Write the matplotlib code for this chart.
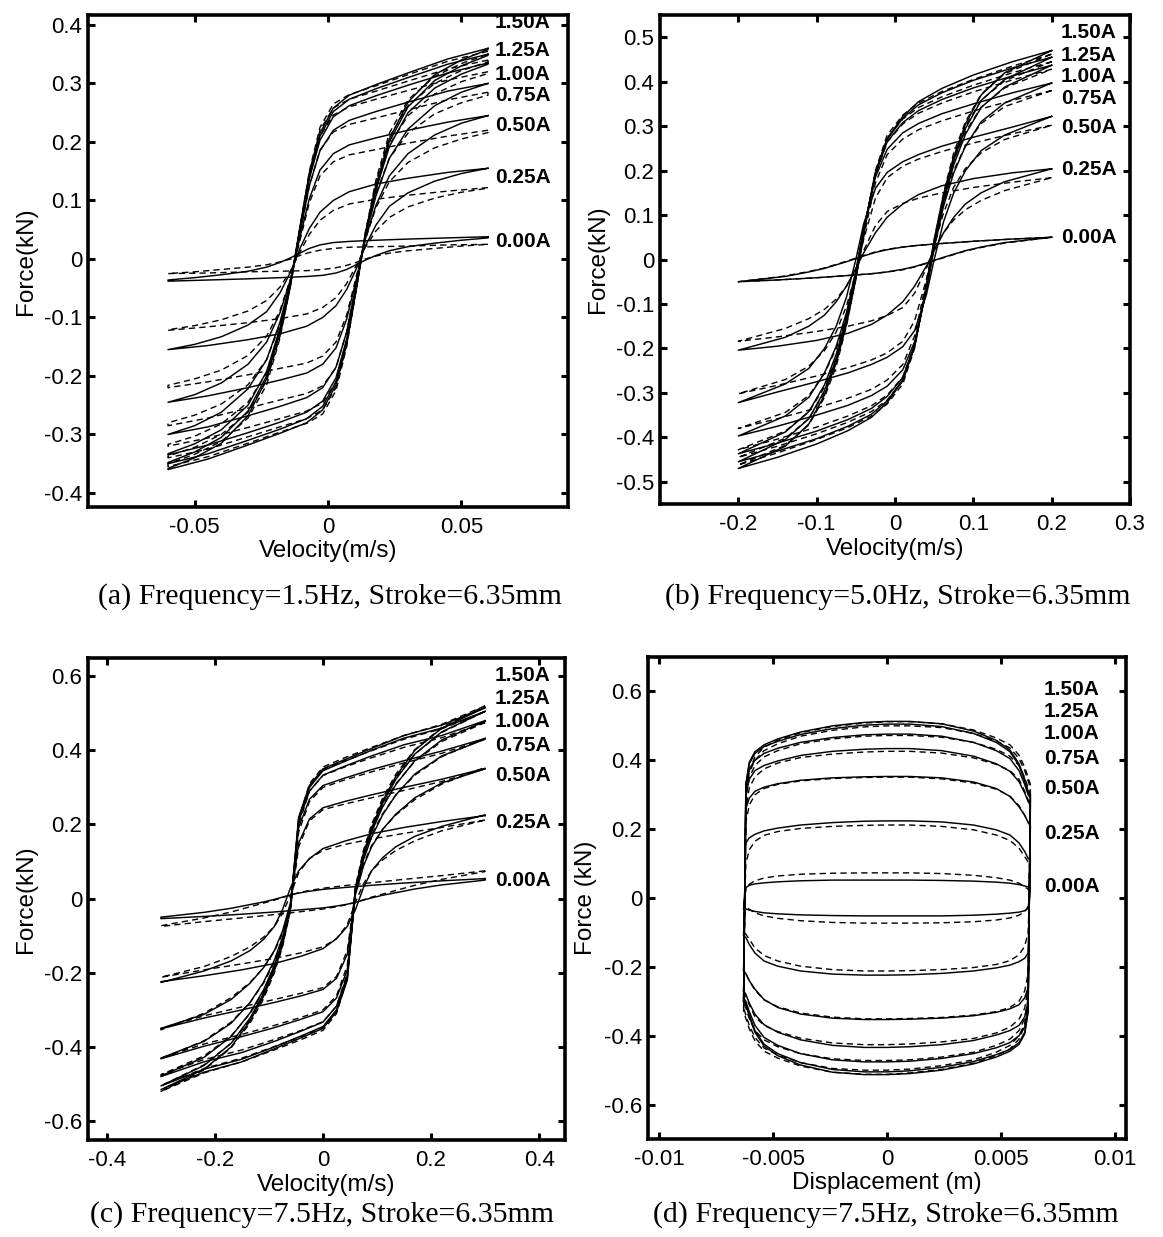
import matplotlib
matplotlib.use('Agg')
import matplotlib.pyplot as plt
import numpy as np
from matplotlib.ticker import FuncFormatter

plt.rcParams['font.family'] = ['Liberation Sans', 'DejaVu Sans']
plt.rcParams['axes.unicode_minus'] = False

CURRENTS = ['1.50A', '1.25A', '1.00A', '0.75A', '0.50A', '0.25A', '0.00A']

# ---------------- Panel (a): 1.5 Hz, force vs velocity (upper branch, v decreasing) ----------
V_A = [0.06, 0.045, 0.03, 0.018, 0.008, 0.002, -0.003, -0.007, -0.0105, -0.014, -0.018, -0.023, -0.03, -0.04, -0.05, -0.06]
A_S_150 = [0.360, 0.342, 0.318, 0.298, 0.280, 0.258, 0.215, 0.145, 0.055, -0.040, -0.125, -0.205, -0.268, -0.315, -0.340, -0.358]
A_S_125 = [0.350, 0.333, 0.310, 0.291, 0.273, 0.252, 0.210, 0.142, 0.053, -0.040, -0.122, -0.200, -0.260, -0.305, -0.330, -0.348]
A_S_100 = [0.335, 0.318, 0.297, 0.279, 0.262, 0.243, 0.203, 0.137, 0.050, -0.040, -0.118, -0.192, -0.250, -0.292, -0.316, -0.333]
A_S_075 = [0.300, 0.287, 0.268, 0.252, 0.237, 0.220, 0.185, 0.125, 0.045, -0.038, -0.108, -0.172, -0.222, -0.262, -0.285, -0.300]
A_S_050 = [0.245, 0.234, 0.220, 0.207, 0.195, 0.180, 0.152, 0.103, 0.037, -0.034, -0.092, -0.142, -0.180, -0.212, -0.232, -0.245]
A_S_025 = [0.155, 0.148, 0.138, 0.128, 0.115, 0.100, 0.080, 0.052, 0.018, -0.022, -0.058, -0.090, -0.113, -0.133, -0.146, -0.155]
A_S_000 = [0.038, 0.036, 0.034, 0.032, 0.030, 0.028, 0.024, 0.018, 0.010, 0.002, -0.006, -0.014, -0.021, -0.027, -0.032, -0.036]
A_D_150 = [0.355, 0.338, 0.315, 0.296, 0.281, 0.265, 0.225, 0.150, 0.055, -0.045, -0.135, -0.215, -0.272, -0.312, -0.334, -0.350]
A_D_125 = [0.340, 0.325, 0.304, 0.287, 0.273, 0.258, 0.220, 0.147, 0.053, -0.045, -0.132, -0.208, -0.262, -0.300, -0.322, -0.337]
A_D_100 = [0.320, 0.306, 0.288, 0.273, 0.260, 0.246, 0.210, 0.140, 0.050, -0.044, -0.125, -0.195, -0.245, -0.282, -0.303, -0.317]
A_D_075 = [0.285, 0.272, 0.255, 0.241, 0.230, 0.217, 0.186, 0.125, 0.043, -0.040, -0.112, -0.172, -0.215, -0.248, -0.267, -0.280]
A_D_050 = [0.220, 0.210, 0.198, 0.187, 0.178, 0.166, 0.142, 0.096, 0.032, -0.033, -0.088, -0.132, -0.165, -0.190, -0.205, -0.216]
A_D_025 = [0.122, 0.116, 0.109, 0.102, 0.094, 0.083, 0.066, 0.042, 0.012, -0.020, -0.048, -0.071, -0.089, -0.104, -0.114, -0.121]
A_D_000 = [0.025, 0.024, 0.022, 0.021, 0.020, 0.018, 0.015, 0.011, 0.006, 0.000, -0.005, -0.010, -0.014, -0.018, -0.022, -0.025]

# ---------------- Panel (b): 5.0 Hz ----------------
V_B = [0.2, 0.15, 0.1, 0.06, 0.03, 0.01, -0.01, -0.025, -0.04, -0.05, -0.062, -0.075, -0.09, -0.11, -0.14, -0.2]
B_S_150 = [0.470, 0.445, 0.415, 0.385, 0.355, 0.322, 0.272, 0.195, 0.065, -0.035, -0.140, -0.230, -0.305, -0.370, -0.420, -0.470]
B_S_125 = [0.455, 0.431, 0.403, 0.375, 0.348, 0.318, 0.270, 0.194, 0.066, -0.033, -0.136, -0.223, -0.295, -0.358, -0.405, -0.455]
B_S_100 = [0.437, 0.413, 0.386, 0.360, 0.335, 0.308, 0.265, 0.192, 0.068, -0.030, -0.130, -0.213, -0.282, -0.342, -0.388, -0.437]
B_S_075 = [0.397, 0.375, 0.350, 0.328, 0.306, 0.285, 0.248, 0.185, 0.070, -0.025, -0.120, -0.195, -0.255, -0.310, -0.352, -0.397]
B_S_050 = [0.322, 0.298, 0.275, 0.255, 0.236, 0.220, 0.196, 0.160, 0.080, 0.000, -0.085, -0.150, -0.200, -0.245, -0.280, -0.322]
B_S_025 = [0.204, 0.195, 0.182, 0.166, 0.146, 0.125, 0.095, 0.060, 0.015, -0.020, -0.060, -0.095, -0.125, -0.150, -0.175, -0.204]
B_S_000 = [0.050, 0.046, 0.041, 0.036, 0.032, 0.028, 0.022, 0.016, 0.008, 0.002, -0.005, -0.012, -0.020, -0.028, -0.038, -0.050]
B_D_150 = [0.462, 0.435, 0.405, 0.378, 0.352, 0.325, 0.280, 0.200, 0.060, -0.045, -0.150, -0.240, -0.310, -0.372, -0.418, -0.462]
B_D_125 = [0.445, 0.420, 0.392, 0.366, 0.342, 0.316, 0.273, 0.196, 0.058, -0.045, -0.147, -0.233, -0.300, -0.358, -0.402, -0.445]
B_D_100 = [0.428, 0.404, 0.377, 0.352, 0.329, 0.305, 0.264, 0.190, 0.056, -0.043, -0.141, -0.223, -0.287, -0.343, -0.386, -0.428]
B_D_075 = [0.380, 0.358, 0.334, 0.312, 0.292, 0.271, 0.236, 0.172, 0.050, -0.040, -0.128, -0.200, -0.256, -0.306, -0.344, -0.380]
B_D_050 = [0.302, 0.283, 0.262, 0.243, 0.226, 0.210, 0.184, 0.138, 0.045, -0.030, -0.105, -0.163, -0.205, -0.240, -0.270, -0.302]
B_D_025 = [0.184, 0.174, 0.162, 0.150, 0.138, 0.126, 0.108, 0.076, 0.020, -0.022, -0.060, -0.089, -0.112, -0.133, -0.155, -0.184]
B_D_000 = [0.050, 0.046, 0.041, 0.036, 0.032, 0.028, 0.023, 0.017, 0.009, 0.003, -0.004, -0.011, -0.019, -0.027, -0.037, -0.050]

# ---------------- Panel (c): 7.5 Hz ----------------
V_C = [0.3, 0.22, 0.15, 0.09, 0.04, 0.0, -0.025, -0.045, -0.06, -0.075, -0.09, -0.11, -0.135, -0.17, -0.22, -0.3]
C_S_150 = [0.515, 0.468, 0.440, 0.405, 0.375, 0.350, 0.305, 0.220, -0.020, -0.120, -0.190, -0.262, -0.330, -0.400, -0.460, -0.515]
C_S_125 = [0.505, 0.460, 0.433, 0.400, 0.370, 0.345, 0.300, 0.215, -0.020, -0.118, -0.186, -0.256, -0.322, -0.390, -0.450, -0.505]
C_S_100 = [0.480, 0.440, 0.415, 0.385, 0.357, 0.333, 0.290, 0.208, -0.020, -0.114, -0.180, -0.246, -0.308, -0.372, -0.428, -0.478]
C_S_075 = [0.432, 0.398, 0.372, 0.348, 0.325, 0.305, 0.268, 0.192, -0.015, -0.105, -0.166, -0.225, -0.280, -0.336, -0.385, -0.430]
C_S_050 = [0.351, 0.322, 0.300, 0.280, 0.262, 0.245, 0.215, 0.150, -0.010, -0.088, -0.140, -0.186, -0.228, -0.272, -0.312, -0.350]
C_S_025 = [0.224, 0.208, 0.192, 0.175, 0.155, 0.135, 0.108, 0.075, 0.030, -0.030, -0.075, -0.110, -0.140, -0.168, -0.195, -0.226]
C_S_000 = [0.054, 0.048, 0.042, 0.036, 0.030, 0.025, 0.020, 0.015, 0.010, 0.004, -0.002, -0.009, -0.016, -0.026, -0.037, -0.050]
C_D_150 = [0.520, 0.470, 0.440, 0.408, 0.380, 0.355, 0.310, 0.215, -0.030, -0.130, -0.200, -0.270, -0.336, -0.402, -0.462, -0.520]
C_D_125 = [0.505, 0.458, 0.430, 0.399, 0.372, 0.348, 0.304, 0.210, -0.030, -0.128, -0.196, -0.263, -0.327, -0.390, -0.448, -0.505]
C_D_100 = [0.475, 0.434, 0.408, 0.380, 0.355, 0.332, 0.290, 0.200, -0.028, -0.122, -0.187, -0.250, -0.310, -0.370, -0.424, -0.475]
C_D_075 = [0.430, 0.392, 0.366, 0.342, 0.320, 0.300, 0.262, 0.180, -0.025, -0.112, -0.172, -0.228, -0.280, -0.333, -0.383, -0.432]
C_D_050 = [0.350, 0.316, 0.292, 0.272, 0.255, 0.240, 0.210, 0.140, -0.020, -0.094, -0.143, -0.186, -0.226, -0.267, -0.309, -0.354]
C_D_025 = [0.212, 0.192, 0.176, 0.161, 0.146, 0.130, 0.108, 0.070, 0.010, -0.040, -0.075, -0.104, -0.130, -0.156, -0.183, -0.212]
C_D_000 = [0.075, 0.062, 0.052, 0.043, 0.035, 0.028, 0.022, 0.016, 0.010, 0.003, -0.004, -0.012, -0.022, -0.036, -0.052, -0.073]

# ---------------- Panel (d): 7.5 Hz, force vs displacement (upper curve, x increasing) ----------
X_D = [-0.0063, -0.0062, -0.00605, -0.0058, -0.0054, -0.0048, -0.0038, -0.0024, -0.001, 0.0,
       0.001, 0.0024, 0.0038, 0.0048, 0.0054, 0.0058, 0.00605, 0.0062, 0.0063]
D_S_150 = [-0.30, 0.33, 0.395, 0.425, 0.445, 0.462, 0.482, 0.500, 0.510, 0.513, 0.513, 0.506, 0.485, 0.458, 0.430, 0.390, 0.345, 0.310, 0.300]
D_S_125 = [-0.30, 0.33, 0.390, 0.420, 0.440, 0.455, 0.475, 0.492, 0.502, 0.505, 0.505, 0.498, 0.478, 0.452, 0.425, 0.385, 0.340, 0.305, 0.300]
D_S_100 = [-0.29, 0.32, 0.375, 0.400, 0.420, 0.435, 0.452, 0.466, 0.474, 0.476, 0.476, 0.470, 0.452, 0.428, 0.405, 0.370, 0.330, 0.300, 0.290]
D_S_075 = [-0.27, 0.30, 0.345, 0.370, 0.385, 0.398, 0.414, 0.426, 0.432, 0.434, 0.434, 0.428, 0.412, 0.390, 0.368, 0.338, 0.305, 0.280, 0.270]
D_S_050 = [-0.21, 0.26, 0.290, 0.310, 0.322, 0.332, 0.342, 0.349, 0.352, 0.353, 0.353, 0.349, 0.337, 0.318, 0.295, 0.265, 0.240, 0.220, 0.210]
D_S_025 = [-0.11, 0.16, 0.175, 0.185, 0.195, 0.203, 0.212, 0.219, 0.223, 0.224, 0.224, 0.221, 0.212, 0.198, 0.183, 0.160, 0.135, 0.115, 0.110]
D_S_000 = [-0.03, 0.03, 0.037, 0.041, 0.044, 0.047, 0.050, 0.052, 0.052, 0.052, 0.052, 0.051, 0.049, 0.046, 0.043, 0.039, 0.035, 0.032, 0.030]
D_D_150 = [-0.33, 0.30, 0.370, 0.410, 0.438, 0.458, 0.480, 0.498, 0.508, 0.512, 0.512, 0.506, 0.488, 0.465, 0.445, 0.415, 0.380, 0.350, 0.330]
D_D_125 = [-0.32, 0.30, 0.365, 0.400, 0.428, 0.448, 0.470, 0.487, 0.497, 0.500, 0.500, 0.495, 0.478, 0.456, 0.436, 0.405, 0.370, 0.340, 0.320]
D_D_100 = [-0.30, 0.29, 0.350, 0.385, 0.410, 0.428, 0.448, 0.462, 0.470, 0.472, 0.472, 0.467, 0.452, 0.432, 0.412, 0.385, 0.350, 0.320, 0.300]
D_D_075 = [-0.27, 0.26, 0.320, 0.352, 0.375, 0.392, 0.408, 0.418, 0.424, 0.426, 0.426, 0.421, 0.407, 0.388, 0.370, 0.345, 0.310, 0.285, 0.270]
D_D_050 = [-0.21, 0.22, 0.270, 0.300, 0.318, 0.330, 0.340, 0.347, 0.350, 0.351, 0.351, 0.346, 0.334, 0.316, 0.296, 0.268, 0.240, 0.220, 0.210]
D_D_025 = [-0.10, 0.10, 0.140, 0.165, 0.182, 0.193, 0.202, 0.208, 0.211, 0.212, 0.212, 0.208, 0.198, 0.183, 0.167, 0.145, 0.120, 0.105, 0.100]
D_D_000 = [-0.02, 0.025, 0.040, 0.050, 0.058, 0.064, 0.069, 0.072, 0.073, 0.073, 0.073, 0.071, 0.066, 0.059, 0.052, 0.043, 0.033, 0.025, 0.020]

# label anchor y-values (data units) for each panel
LAB_A = [0.405, 0.356, 0.316, 0.279, 0.228, 0.140, 0.029]
LAB_B = [0.511, 0.460, 0.411, 0.363, 0.298, 0.202, 0.049]
LAB_C = [0.602, 0.540, 0.478, 0.413, 0.333, 0.205, 0.049]
LAB_D = [0.606, 0.542, 0.478, 0.406, 0.319, 0.188, 0.032]

W, H = 1163, 1237
fig = plt.figure(figsize=(W / 100, H / 100), dpi=100)


def ax_px(left, right, top, bottom):
    return fig.add_axes([left / W, 1 - bottom / H, (right - left) / W, (bottom - top) / H])


fmt = FuncFormatter(lambda v, p: '%g' % round(v, 6))


def style(ax, xlim, ylim, xt, yt, xlabel, ylabel):
    ax.set_xlim(*xlim)
    ax.set_ylim(*ylim)
    ax.set_xticks(xt)
    ax.set_yticks(yt)
    ax.xaxis.set_major_formatter(fmt)
    ax.yaxis.set_major_formatter(fmt)
    ax.tick_params(direction='in', top=True, right=True, length=5, width=2.2,
                   labelsize=16)
    ax.tick_params(axis='x', pad=7.5)
    ax.tick_params(axis='y', pad=4)
    for s in ax.spines.values():
        s.set_linewidth(2.6)
    ax.set_xlabel(xlabel, fontsize=17.5, labelpad=1.5)
    ax.set_ylabel(ylabel, fontsize=17.5, labelpad=5)


def draw_loops(ax, xs, solid, dashed):
    xs = np.asarray(xs)
    for ys in solid:
        ys = np.asarray(ys)
        x = np.concatenate([xs, -xs, xs[:1]])
        y = np.concatenate([ys, -ys, ys[:1]])
        ax.plot(x, y, color='black', lw=1.05, solid_joinstyle='round')
    for ys in dashed:
        ys = np.asarray(ys)
        x = np.concatenate([xs, -xs, xs[:1]])
        y = np.concatenate([ys, -ys, ys[:1]])
        ax.plot(x, y, color='black', lw=1.0, dashes=(4.5, 3))


def labels(ax, xpos, ys):
    for name, y in zip(CURRENTS, ys):
        ax.text(xpos, y, name, fontsize=15, fontweight='bold', ha='left', va='center')


# (a)
axa = ax_px(88, 568, 15, 507)
draw_loops(axa, V_A, [A_S_150, A_S_125, A_S_100, A_S_075, A_S_050, A_S_025, A_S_000],
           [A_D_150, A_D_125, A_D_100, A_D_075, A_D_050, A_D_025, A_D_000])
style(axa, (-0.09, 0.09), (-0.424, 0.417), [-0.05, 0, 0.05], np.arange(-4, 5) / 10,
      'Velocity(m/s)', 'Force(kN)')
labels(axa, 0.0625, LAB_A)

# (b)
axb = ax_px(660, 1130, 15, 504)
draw_loops(axb, V_B, [B_S_150, B_S_125, B_S_100, B_S_075, B_S_050, B_S_025, B_S_000],
           [B_D_150, B_D_125, B_D_100, B_D_075, B_D_050, B_D_025, B_D_000])
style(axb, (-0.3, 0.3), (-0.55, 0.55), np.arange(-2, 4) / 10, np.arange(-5, 6) / 10,
      'Velocity(m/s)', 'Force(kN)')
labels(axb, 0.212, LAB_B)

# (c)
axc = ax_px(88, 565, 658, 1140)
draw_loops(axc, V_C, [C_S_150, C_S_125, C_S_100, C_S_075, C_S_050, C_S_025, C_S_000],
           [C_D_150, C_D_125, C_D_100, C_D_075, C_D_050, C_D_025, C_D_000])
style(axc, (-0.435, 0.448), (-0.651, 0.649), np.arange(-2, 3) / 5, np.arange(-3, 4) / 5,
      'Velocity(m/s)', 'Force(kN)')
labels(axc, 0.318, LAB_C)

# (d)
axd = ax_px(648, 1126, 657, 1139)
draw_loops(axd, X_D, [D_S_150, D_S_125, D_S_100, D_S_075, D_S_050, D_S_025, D_S_000],
           [D_D_150, D_D_125, D_D_100, D_D_075, D_D_050, D_D_025, D_D_000])
style(axd, (-0.0105, 0.0105), (-0.7, 0.7), [-0.01, -0.005, 0, 0.005, 0.01], np.arange(-3, 4) / 5,
      'Displacement (m)', 'Force (kN)')
labels(axd, 0.0069, LAB_D)

cap = dict(fontsize=21.5, family=['Liberation Serif', 'DejaVu Serif'], ha='center', va='center')
fig.text(330 / W, 1 - 597 / H, '(a) Frequency=1.5Hz, Stroke=6.35mm', **cap)
fig.text(898 / W, 1 - 597 / H, '(b) Frequency=5.0Hz, Stroke=6.35mm', **cap)
fig.text(322 / W, 1 - 1215 / H, '(c) Frequency=7.5Hz, Stroke=6.35mm', **cap)
fig.text(886 / W, 1 - 1215 / H, '(d) Frequency=7.5Hz, Stroke=6.35mm', **cap)

fig.savefig('out.png', dpi=100)
